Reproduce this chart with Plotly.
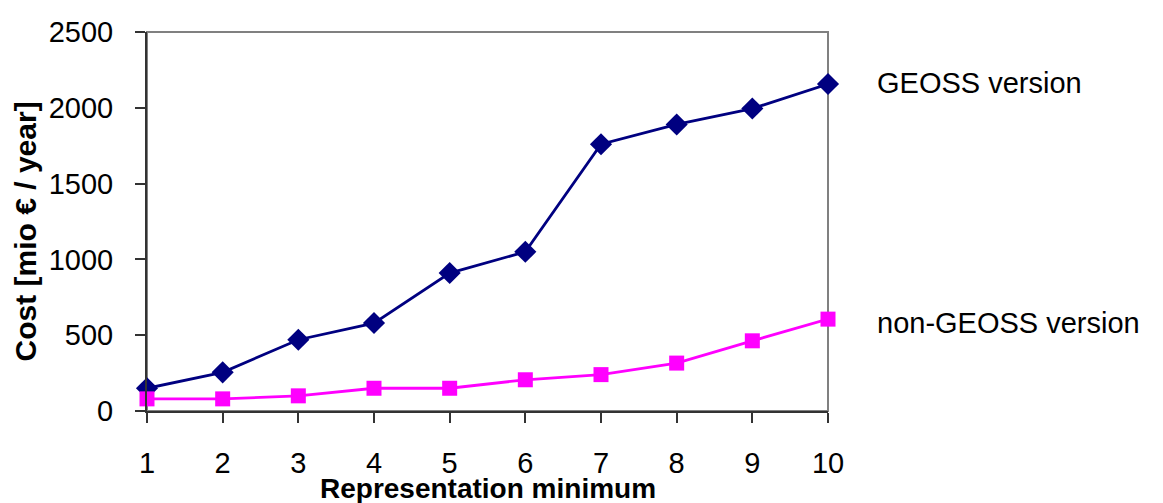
import plotly.graph_objects as go

x_vals = [1, 2, 3, 4, 5, 6, 7, 8, 9, 10]
geoss = [150, 255, 470, 580, 910, 1050, 1760, 1890, 1995, 2157]
non_geoss = [80, 80, 100, 150, 150, 206, 240, 316, 463, 606]
y_ticks = [0, 500, 1000, 1500, 2000, 2500]
series_labels = ["GEOSS version", "non-GEOSS version"]
x_title = "Representation minimum"
y_title = "Cost [mio € / year]"

FONT = "Liberation Sans, Arial, sans-serif"

fig = go.Figure()
fig.add_trace(go.Scatter(
    x=x_vals, y=geoss, mode="lines+markers", name=series_labels[0],
    line=dict(color="#000080", width=2.8),
    marker=dict(symbol="diamond", size=17, color="#000080"),
    cliponaxis=False,
))
fig.add_trace(go.Scatter(
    x=x_vals, y=non_geoss, mode="lines+markers", name=series_labels[1],
    line=dict(color="#FF00FF", width=2.8),
    marker=dict(symbol="square", size=15, color="#FF00FF"),
    cliponaxis=False,
))

# gray frame around plot area
fig.add_shape(type="rect", xref="paper", yref="paper", x0=0, x1=1, y0=0, y1=1,
              line=dict(color="#808080", width=2), layer="below")

fig.add_annotation(text=series_labels[0], xref="paper", yref="paper",
                   x=1.069, y=0.865, xanchor="left", yanchor="middle",
                   showarrow=False, font=dict(family=FONT, size=29, color="black"))
fig.add_annotation(text=series_labels[1], xref="paper", yref="paper",
                   x=1.069, y=0.232, xanchor="left", yanchor="middle",
                   showarrow=False, font=dict(family=FONT, size=29, color="black"))

# axis titles
fig.add_annotation(text="<b>" + x_title + "</b>", xref="paper", yref="paper",
                   x=0.5, y=-0.205, xanchor="center", yanchor="middle",
                   showarrow=False, font=dict(family=FONT, size=28, color="black"))
fig.add_annotation(text="<b>" + y_title + "</b>", xref="paper", yref="paper",
                   x=-0.177, y=0.475, xanchor="center", yanchor="middle", textangle=-90,
                   showarrow=False, font=dict(family=FONT, size=30, color="black"))

fig.update_layout(
    width=1163, height=503,
    margin=dict(l=147, r=335, t=32, b=92),
    plot_bgcolor="white", paper_bgcolor="white",
    showlegend=False,
    font=dict(family=FONT, color="black"),
)
fig.update_xaxes(
    range=[1, 10], tickvals=x_vals, ticktext=[str(v) for v in x_vals],
    showgrid=False, zeroline=False, automargin=False,
    showline=True, linecolor="#333333", linewidth=2,
    ticks="outside", ticklen=10, tickwidth=1.5, tickcolor="#333333",
    tickfont=dict(family=FONT, size=29), ticklabelstandoff=15,
)
fig.update_yaxes(
    range=[0, 2500], tickvals=y_ticks,
    showgrid=False, zeroline=False, automargin=False,
    showline=True, linecolor="#333333", linewidth=2,
    ticks="outside", ticklen=10, tickwidth=1.5, tickcolor="#333333",
    tickfont=dict(family=FONT, size=29), ticklabelstandoff=16,
)

fig.write_html("out.html", config={"displayModeBar": False},
               post_script="document.body.style.margin='0';document.body.style.padding='0';")
